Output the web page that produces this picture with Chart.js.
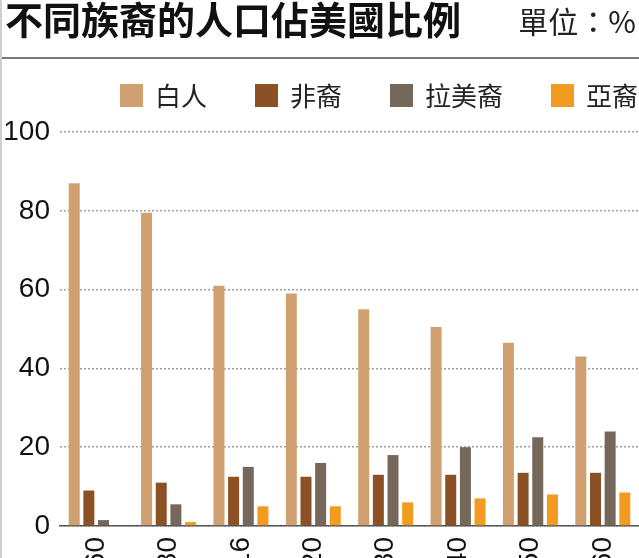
<!DOCTYPE html>
<html>
<head>
<meta charset="utf-8">
<title>不同族裔的人口佔美國比例</title>
<script src="https://cdn.jsdelivr.net/npm/chart.js@4.4.1/dist/chart.umd.min.js"></script>
<style>
    html, body { margin: 0; padding: 0; background: #fff; overflow: hidden; }
    body { width: 639px; height: 558px; position: relative; font-family: 'Noto Sans CJK TC', 'Noto Sans', sans-serif; }
    .frame { position: absolute; left: 0; top: 0; width: 2px; height: 558px; background: #cfcfcf; z-index: 3; }
    .title { position: absolute; left: 5px; top: -1px; font-size: 38px; line-height: 38px; font-weight: bold; color: #111; white-space: nowrap; z-index: 2; }
    .unit { position: absolute; right: 3px; top: 5px; font-size: 30px; line-height: 30px; color: #222; white-space: nowrap; z-index: 2; }
    .rule { position: absolute; left: 0; top: 57px; width: 639px; height: 2px; background: #7a7a7a; z-index: 2; }
    #legend { position: absolute; left: 120px; top: 83px; height: 24px; display: flex; align-items: center; z-index: 2; white-space: nowrap; }
    #legend .item { display: flex; align-items: center; margin-right: 48px; }
    #legend .box { width: 23px; height: 23px; margin-right: 12px; }
    #legend .text { font-size: 26px; line-height: 26px; color: #222; }
    .chart-wrap { position: absolute; left: 0; top: 0; width: 639px; height: 566px; z-index: 1; }
</style>
</head>
<body>
<div class="frame"></div>
<div class="title">不同族裔的人口佔美國比例</div>
<div class="unit">單位：%</div>
<div class="rule"></div>
<div id="legend"></div>
<div class="chart-wrap"><canvas id="raceChart"></canvas></div>

<script>
const years = ['1960', '1980', '2016', '2020', '2030', '2040', '2050', '2060'];
const seriesNames = ['白人', '非裔', '拉美裔', '亞裔'];
const white = [87, 79.5, 61, 59, 55, 50.5, 46.5, 43];
const black = [9, 11, 12.5, 12.5, 13, 13, 13.5, 13.5];
const hispanic = [1.5, 5.5, 15, 16, 18, 20, 22.5, 24];
const asian = [0, 1, 5, 5, 6, 7, 8, 8.5];
const yTicks = [0, 20, 40, 60, 80, 100];

const colors = ['#d0a070', '#8c5025', '#76675b', '#f39a20'];

document.addEventListener('DOMContentLoaded', () => {
    const values = [white, black, hispanic, asian];

    // Legend built from the series names and colours
    const legend = document.getElementById('legend');
    legend.innerHTML = seriesNames.map((name, i) => `
        <div class="item">
            <span class="box" style="background:${colors[i]}"></span>
            <span class="text">${name}</span>
        </div>
    `).join('');

    const ctx = document.getElementById('raceChart');
    new Chart(ctx, {
        type: 'bar',
        data: {
            labels: years,
            datasets: seriesNames.map((name, i) => ({
                label: name,
                data: values[i],
                backgroundColor: colors[i],
                borderWidth: 0
            }))
        },
        options: {
            responsive: true,
            maintainAspectRatio: false,
            animation: false,
            categoryPercentage: 0.81,
            barPercentage: 0.75,
            layout: {
                padding: { top: 132, left: 0, right: 0, bottom: 0 }
            },
            plugins: {
                legend: { display: false },
                tooltip: { enabled: false }
            },
            scales: {
                x: {
                    // labels run off the bottom edge, keep the plot full width
                    afterFit: (scale) => {
                        scale.height = 40;
                        scale.paddingLeft = 0;
                        scale.paddingRight = 0;
                    },
                    grid: {
                        display: true,
                        drawOnChartArea: false,
                        drawTicks: false
                    },
                    border: {
                        display: true,
                        color: '#555',
                        width: 1.5
                    },
                    ticks: {
                        minRotation: 90,
                        maxRotation: 90,
                        autoSkip: false,
                        padding: 11,
                        color: '#111',
                        font: { family: "'Liberation Sans', Arial, sans-serif", size: 28 }
                    }
                },
                y: {
                    min: 0,
                    max: 100,
                    afterFit: (scale) => { scale.width = 60; },
                    afterBuildTicks: (scale) => {
                        scale.ticks = yTicks.map(v => ({ value: v }));
                    },
                    grid: {
                        color: '#a0a0a0',
                        lineWidth: 1.5,
                        drawTicks: false
                    },
                    border: { display: false, dash: [2, 2] },
                    ticks: {
                        padding: 10,
                        color: '#111',
                        font: { family: "'Liberation Sans', Arial, sans-serif", size: 28 }
                    }
                }
            }
        }
    });
});
</script>
</body>
</html>
